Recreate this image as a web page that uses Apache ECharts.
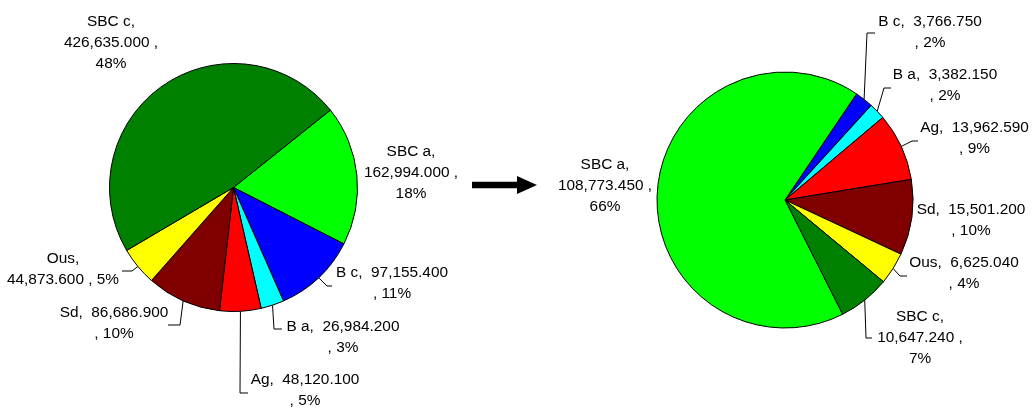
<!DOCTYPE html>
<html>
<head>
<meta charset="utf-8">
<script src="https://cdn.jsdelivr.net/npm/echarts@6/dist/echarts.min.js"></script>
<style>
  html, body { margin: 0; padding: 0; background: #fff; }
  #chart { width: 1035px; height: 408px; }
</style>
</head>
<body>
<div id="chart"></div>
<script>
// Categories and values, "before" pie (clockwise order)
const beforeNames = ['SBC a', 'B c', 'B a', 'Ag', 'Sd', 'Ous', 'SBC c'];
const beforeValues = [162994.000, 97155.400, 26984.200, 48120.100, 86686.900, 44873.600, 426635.000];
const beforePct = [18, 11, 3, 5, 10, 5, 48];

// Categories and values, "after" pie (clockwise order)
const afterNames = ['B c', 'B a', 'Ag', 'Sd', 'Ous', 'SBC c', 'SBC a'];
const afterValues = [3766.750, 3382.150, 13962.590, 15501.200, 6625.040, 10647.240, 108773.450];
const afterPct = [2, 2, 9, 10, 4, 7, 66];

// Slice colours by category
const colors = {
  'SBC c': '#008000',
  'SBC a': '#00FF00',
  'B c': '#0000FF',
  'B a': '#00FFFF',
  'Ag': '#FF0000',
  'Sd': '#800000',
  'Ous': '#FFFF00'
};

// How each label wraps its three parts
const beforeWrap = { 'SBC c': 'stack', 'SBC a': 'stack', 'B c': 'pair', 'B a': 'pair', 'Ag': 'pair', 'Sd': 'pair', 'Ous': 'top' };
const afterWrap = { 'SBC c': 'stack', 'SBC a': 'stack', 'B c': 'pair', 'B a': 'pair', 'Ag': 'pair', 'Sd': 'pair', 'Ous': 'pair' };

// Label block centres and leader-line bends (page pixels)
const beforeSpots = {
  'SBC c': { x: 111, y: 43 },
  'SBC a': { x: 411, y: 172.5 },
  'B c': { x: 392, y: 283.5, line: [[327, 286], [332, 286]] },
  'B a': { x: 343, y: 337, line: [[274, 329], [282, 329]] },
  'Ag': { x: 305, y: 390.5, line: [[240, 393], [248, 393]] },
  'Sd': { x: 114, y: 323, line: [[180, 325], [168, 325]] },
  'Ous': { x: 63, y: 269.5, line: [[132, 271], [122, 271]] }
};
const afterSpots = {
  'B c': { x: 930, y: 32, line: [[867, 33], [875, 33]] },
  'B a': { x: 945, y: 85.5, line: [[884, 88], [891, 88]] },
  'Ag': { x: 974.5, y: 138.5, line: [[912, 141], [918, 141]] },
  'Sd': { x: 971, y: 220.5 },
  'Ous': { x: 964, y: 273, line: [[900, 276], [907, 276]] },
  'SBC c': { x: 920, y: 337.5, line: [[866, 338], [872, 338]] },
  'SBC a': { x: 605, y: 186 }
};

function fmt(v) {
  return v.toLocaleString('en-US', { minimumFractionDigits: 3, maximumFractionDigits: 3 });
}

function labelText(name, value, pct, wrap) {
  const v = fmt(value);
  if (wrap === 'stack') return name + ',\n' + v + ' ,\n' + pct + '%';
  if (wrap === 'top') return name + ',\n' + v + ' , ' + pct + '%';
  return name + ',  ' + v + '\n, ' + pct + '%';
}

function buildData(names, values, pcts, wraps, spots) {
  return names.map((n, i) => ({
    name: n,
    value: values[i],
    itemStyle: { color: colors[n] },
    label: { formatter: labelText(n, values[i], pcts[i], wraps[n]) },
    labelLine: { show: !!spots[n].line }
  }));
}

const spotsBySeries = [beforeSpots, afterSpots];
const namesBySeries = [beforeNames, afterNames];

function pieSeries(data, center, radius, startAngle) {
  return {
    type: 'pie',
    center: center,
    radius: radius,
    startAngle: startAngle,
    clockwise: true,
    avoidLabelOverlap: false,
    animation: false,
    silent: true,
    itemStyle: { borderColor: '#000', borderWidth: 1 },
    label: {
      show: true,
      position: 'outside',
      color: '#000',
      fontFamily: '"Liberation Sans", Arial, sans-serif',
      fontSize: 15.4,
      lineHeight: 21,
      align: 'center'
    },
    labelLine: {
      show: true,
      length: 8,
      length2: 6,
      smooth: false,
      lineStyle: { color: '#000', width: 1 }
    },
    labelLayout: function (params) {
      const name = namesBySeries[params.seriesIndex][params.dataIndex];
      const spot = spotsBySeries[params.seriesIndex][name];
      const out = { x: spot.x, y: spot.y, align: 'center', verticalAlign: 'middle' };
      if (spot.line && params.labelLinePoints) {
        out.labelLinePoints = [params.labelLinePoints[0], spot.line[0], spot.line[1]];
      }
      return out;
    },
    emphasis: { disabled: true },
    data: data
  };
}

const chart = echarts.init(document.getElementById('chart'), null, { renderer: 'canvas' });

chart.setOption({
  backgroundColor: '#fff',
  animation: false,
  series: [
    pieSeries(buildData(beforeNames, beforeValues, beforePct, beforeWrap, beforeSpots), [233.5, 187.5], 124, 38.6),
    pieSeries(buildData(afterNames, afterValues, afterPct, afterWrap, afterSpots), [785, 200], 128, 56)
  ],
  graphic: [
    {
      type: 'polygon',
      shape: {
        points: [[472, 181.7], [517, 181.7], [517, 176], [537, 185], [517, 194], [517, 188.3], [472, 188.3]]
      },
      style: { fill: '#000' }
    }
  ]
});
</script>
</body>
</html>
